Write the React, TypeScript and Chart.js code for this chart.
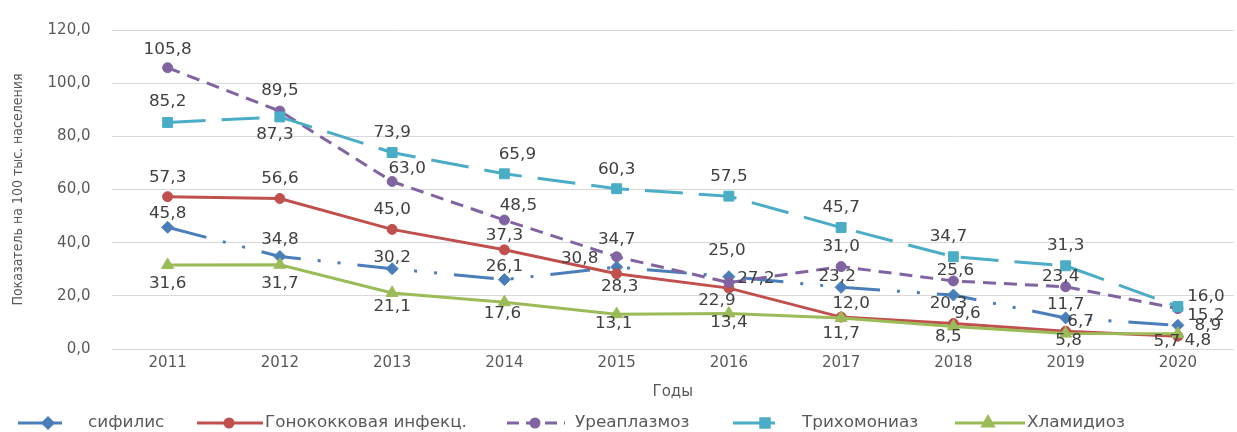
import React, { useEffect, useRef } from 'react';
import { Chart, registerables } from 'chart.js';
import { drawPoint } from 'chart.js/helpers';

Chart.register(...registerables);

// ---- data ----
const years = ['2011', '2012', '2013', '2014', '2015', '2016', '2017', '2018', '2019', '2020'];
const syphilis = [45.8, 34.8, 30.2, 26.1, 30.8, 27.2, 23.2, 20.3, 11.7, 8.9];
const gonorrhea = [57.3, 56.6, 45.0, 37.3, 28.3, 22.9, 12.0, 9.6, 6.7, 4.8];
const ureaplasma = [105.8, 89.5, 63.0, 48.5, 34.7, 25.0, 31.0, 25.6, 23.4, 15.2];
const trichomoniasis = [85.2, 87.3, 73.9, 65.9, 60.3, 57.5, 45.7, 34.7, 31.3, 16.0];
const chlamydia = [31.6, 31.7, 21.1, 17.6, 13.1, 13.4, 11.7, 8.5, 5.8, 5.7];
const seriesNames = ['сифилис', 'Гонококковая инфекц.', 'Уреаплазмоз', 'Трихомониаз', 'Хламидиоз'];
const yAxisTitle = 'Показатель на 100 тыс. населения';
const xAxisTitle = 'Годы';

// ---- styles (label offsets in px relative to point) ----
const labelOffsets: number[][][] = [
  [[0, -13], [0, -16], [0, -11], [0, -13], [-37, -8], [27, 2], [-4, -10], [-5, 9], [0, -13], [30, 1]],
  [[0, -19], [0, -19], [0, -19], [0, -14], [3, 13], [-12, 13], [10, -13], [14, -9], [15, -9], [20, 5]],
  [[0, -18], [0, -20], [15, -12], [14, -14], [0, -17], [-2, -31], [0, -19], [2, -10], [-5, -10], [28, 8]],
  [[0, -20], [-5, 18], [0, -19], [13, -19], [0, -19], [0, -19], [0, -19], [-5, -20], [0, -20], [28, -9]],
  [[0, 19], [0, 19], [0, 14], [-2, 12], [-3, 10], [0, 10], [0, 16], [-5, 11], [3, 8], [-11, 8]],
];
const colors = ['#4A7EBB', '#C0504D', '#8064A2', '#4BACC6', '#9BBB59'];
const dashes = [[40, 17, 3, 17, 3, 17], [], [13, 8], [38, 16], []];
const legendDashes = [[], [], [12, 7], [], []];
const pointStyles = ['rectRot', 'circle', 'circle', 'rect', 'triangle'];
const pointRadii = [6, 5, 5, 7, 7];
const legendItems = [
  { x1: 18, x2: 62, mx: 48, tx: 88 },
  { x1: 197, x2: 263, mx: 229, tx: 265 },
  { x1: 507, x2: 565, mx: 535, tx: 575 },
  { x1: 733, x2: 775, mx: 765, tx: 802 },
  { x1: 955, x2: 1025, mx: 988, tx: 1027 },
];
const TEXT_STRETCH = 1.12;
const FONT = '"DejaVu Sans", Verdana, sans-serif';

const fmt = (v: number) => v.toFixed(1).replace('.', ',');

const overlayPlugin = {
  id: 'overlay',
  afterDatasetsDraw(chart: any) {
    const ctx = chart.ctx;
    ctx.save();
    ctx.font = '15px ' + FONT;
    ctx.fillStyle = '#404040';
    ctx.textAlign = 'center';
    ctx.textBaseline = 'middle';
    chart.data.datasets.forEach((ds: any, di: number) => {
      const meta = chart.getDatasetMeta(di);
      meta.data.forEach((pt: any, i: number) => {
        const [dx, dy] = labelOffsets[di][i];
        ctx.save();
        ctx.translate(pt.x + dx, pt.y + dy);
        ctx.scale(TEXT_STRETCH, 1);
        ctx.fillText(fmt(ds.data[i]), 0, 0);
        ctx.restore();
      });
    });
    ctx.restore();
  },
  afterDraw(chart: any) {
    const ctx = chart.ctx;
    const y = 423;
    ctx.save();
    chart.data.datasets.forEach((ds: any, di: number) => {
      const it = legendItems[di];
      ctx.save();
      ctx.strokeStyle = colors[di];
      ctx.lineWidth = 3;
      ctx.setLineDash(legendDashes[di]);
      ctx.beginPath();
      ctx.moveTo(it.x1, y);
      ctx.lineTo(it.x2, y);
      ctx.stroke();
      ctx.setLineDash([]);
      ctx.fillStyle = colors[di];
      ctx.strokeStyle = colors[di];
      drawPoint(ctx, { pointStyle: pointStyles[di], radius: pointRadii[di] - 1, rotation: 0, borderWidth: 1 } as any, it.mx, y);
      ctx.restore();
      ctx.save();
      ctx.font = '15px ' + FONT;
      ctx.fillStyle = '#595959';
      ctx.textAlign = 'left';
      ctx.textBaseline = 'middle';
      ctx.translate(it.tx, y);
      ctx.scale(TEXT_STRETCH, 1);
      ctx.fillText(seriesNames[di], 0, 0);
      ctx.restore();
    });
    ctx.restore();
  },
};

export default function App() {
  const ref = useRef<HTMLCanvasElement>(null);
  useEffect(() => {
    if (!ref.current) return;
    const seriesData = [syphilis, gonorrhea, ureaplasma, trichomoniasis, chlamydia];
    const chart = new Chart(ref.current, {
      type: 'line',
      data: {
        labels: years,
        datasets: seriesData.map((d, i) => ({
          label: seriesNames[i],
          data: d,
          borderColor: colors[i],
          backgroundColor: colors[i],
          borderWidth: 3,
          borderDash: dashes[i],
          pointStyle: pointStyles[i] as any,
          pointRadius: pointRadii[i],
          pointBackgroundColor: colors[i],
          pointBorderColor: colors[i],
          pointBorderWidth: 1,
          tension: 0,
          fill: false,
          order: 5 - i,
        })),
      },
      options: {
        responsive: false,
        animation: false,
        layout: { padding: { top: 21, left: 0, right: 0, bottom: 0 } },
        plugins: { legend: { display: false }, tooltip: { enabled: false } },
        scales: {
          x: {
            offset: true,
            grid: { display: false, drawTicks: false },
            border: { display: false },
            ticks: { color: '#595959', font: { family: FONT, size: 15 }, padding: 5, maxRotation: 0 },
            title: { display: true, text: xAxisTitle, color: '#595959', font: { family: FONT, size: 15 }, padding: { top: 0, bottom: 31 } },
            afterFit: (s: any) => { s.height = 83; },
          },
          y: {
            min: 0,
            max: 120,
            ticks: { stepSize: 20, color: '#595959', font: { family: FONT, size: 15 }, padding: 21, callback: (v: any) => fmt(Number(v)) },
            grid: { color: '#D9D9D9', lineWidth: 1, drawTicks: false },
            border: { display: false },
            title: {
              display: true,
              text: yAxisTitle,
              color: '#595959',
              font: { family: '"Liberation Sans Narrow", "DejaVu Sans Condensed", sans-serif', size: 14 },
              padding: { top: 10, bottom: 0 },
            },
            afterFit: (s: any) => { s.width = 111.5; },
          },
        },
      },
      plugins: [overlayPlugin],
    });
    return () => chart.destroy();
  }, []);
  return (
    <div style={{ position: 'fixed', left: 0, top: 0, width: 1237, height: 432, overflow: 'hidden', background: '#fff' }}>
      <canvas ref={ref} width={1242} height={432} style={{ display: 'block', width: 1242, height: 432 }} />
    </div>
  );
}
